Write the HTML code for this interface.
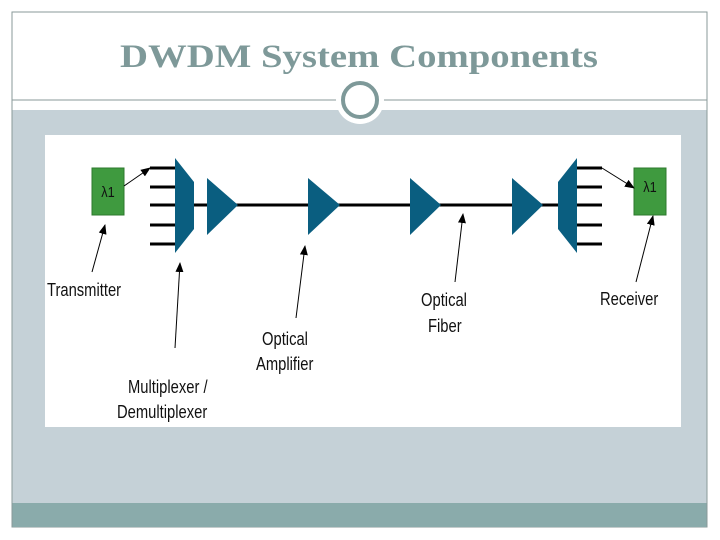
<!DOCTYPE html>
<html><head><meta charset="utf-8"><style>
html,body{margin:0;padding:0;background:#fff;}
body{width:720px;height:540px;position:relative;overflow:hidden;}
.t{position:absolute;font-family:"Liberation Sans",sans-serif;font-size:18px;color:#111;white-space:nowrap;transform:scaleX(0.82);transform-origin:0 0;}
</style></head><body>
<svg width="720" height="540" style="position:absolute;left:0;top:0">
<defs><marker id="a" markerWidth="10" markerHeight="10" refX="9" refY="5" orient="auto" markerUnits="userSpaceOnUse"><path d="M0,1 L10,5 L0,9 z" fill="#000"/></marker></defs>
<rect x="12" y="12" width="695" height="515" fill="#fff" stroke="#8a9a9a" stroke-width="1"/>
<rect x="12.5" y="110" width="694" height="417" fill="#c5d1d7"/>
<rect x="12.5" y="503" width="694" height="24" fill="#8aabab"/>
<line x1="12" y1="100" x2="707" y2="100" stroke="#8a9a9a" stroke-width="1"/>
<circle cx="360" cy="100" r="24" fill="#fff"/>
<circle cx="360" cy="100" r="17" fill="#fff" stroke="#7e9999" stroke-width="4"/>
<text x="120" y="67" textLength="478" lengthAdjust="spacingAndGlyphs" font-family="Liberation Serif,serif" font-size="33" font-weight="bold" fill="#7e9999">DWDM System Components</text>
<rect x="45" y="135" width="636" height="292" fill="#fff"/>
<rect x="92" y="168" width="32" height="47" fill="#3f9a3f" stroke="#2c7a2c"/>
<rect x="634" y="168" width="32" height="47" fill="#3f9a3f" stroke="#2c7a2c"/>
<text x="108" y="197" text-anchor="middle" font-family="Liberation Sans,sans-serif" font-size="15" fill="#111" transform="translate(108 0) scale(0.85 1) translate(-108 0)">λ1</text>
<text x="650" y="192" text-anchor="middle" font-family="Liberation Sans,sans-serif" font-size="15" fill="#111" transform="translate(650 0) scale(0.85 1) translate(-650 0)">λ1</text>
<g stroke="#000" stroke-width="3">
<line x1="150" y1="168" x2="176" y2="168"/><line x1="150" y1="187" x2="176" y2="187"/><line x1="150" y1="205" x2="176" y2="205"/><line x1="150" y1="225" x2="176" y2="225"/><line x1="150" y1="244" x2="176" y2="244"/>
<line x1="576" y1="168" x2="602" y2="168"/><line x1="576" y1="187" x2="602" y2="187"/><line x1="576" y1="205" x2="602" y2="205"/><line x1="576" y1="225" x2="602" y2="225"/><line x1="576" y1="244" x2="602" y2="244"/>
<line x1="194" y1="205" x2="558" y2="205"/>
</g>
<g fill="#0a5e80">
<polygon points="175,158 194,182 194,229 175,253"/>
<polygon points="577,158 558,182 558,229 577,253"/>
<polygon points="207,178 238,205 207,235"/>
<polygon points="308,178 340,205 308,235"/>
<polygon points="410,178 441,205 410,235"/>
<polygon points="512,178 543,205 512,235"/>
</g>
<g stroke="#000" stroke-width="1" marker-end="url(#a)">
<line x1="124" y1="186" x2="150" y2="168"/>
<line x1="602" y1="168" x2="634" y2="188"/>
<line x1="92" y1="272" x2="105" y2="225"/>
<line x1="175" y1="348" x2="180" y2="263"/>
<line x1="296" y1="318" x2="305" y2="246"/>
<line x1="455" y1="282" x2="463" y2="214"/>
<line x1="636" y1="282" x2="653" y2="216"/>
</g>
</svg>
<div class="t" style="left:47px;top:280px">Transmitter</div>
<div class="t" style="left:128px;top:377px">Multiplexer /</div>
<div class="t" style="left:117px;top:402px">Demultiplexer</div>
<div class="t" style="left:262px;top:329px">Optical</div>
<div class="t" style="left:256px;top:354px">Amplifier</div>
<div class="t" style="left:421px;top:290px">Optical</div>
<div class="t" style="left:428px;top:316px">Fiber</div>
<div class="t" style="left:600px;top:289px">Receiver</div>
</body></html>
